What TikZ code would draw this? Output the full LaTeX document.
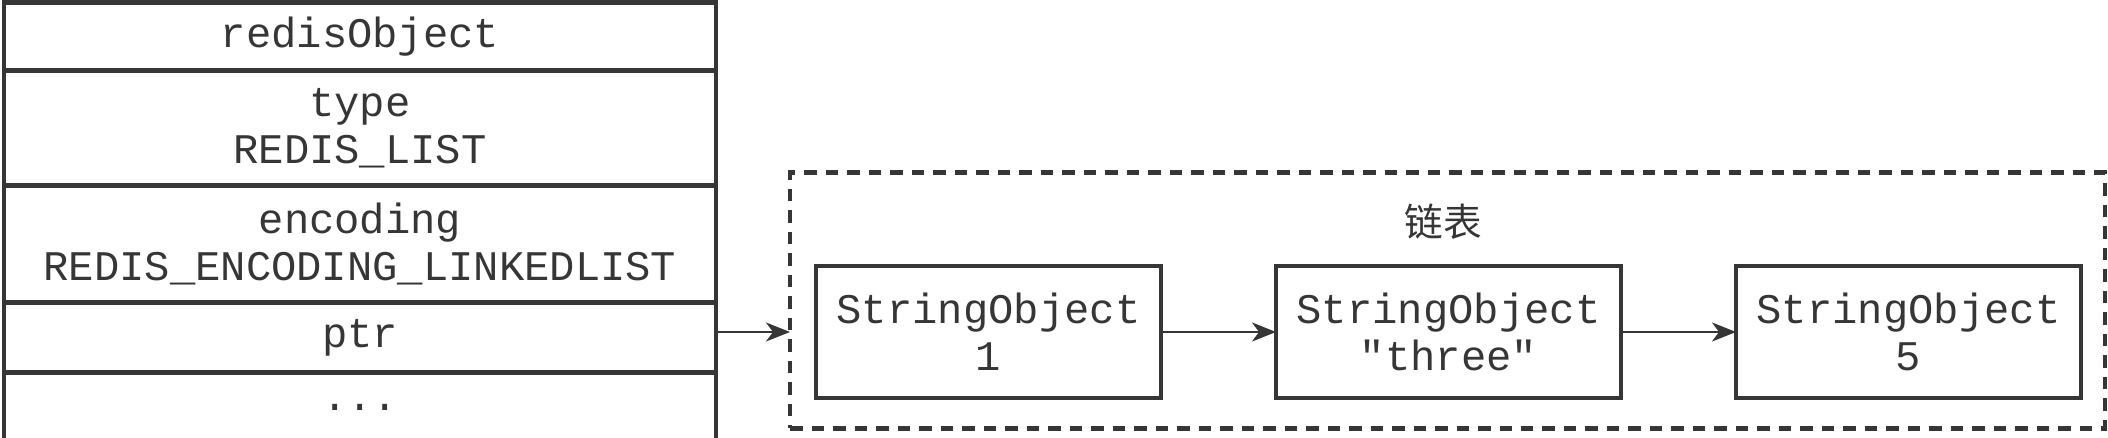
\documentclass[tikz,border=0pt]{standalone}
\usepackage{fontspec}
\setmonofont{Liberation Mono}
\newfontfamily\cjk{Noto Sans CJK SC}
\usetikzlibrary{positioning,arrows.meta}
\definecolor{inkgray}{HTML}{363636}
\begin{document}
\begin{tikzpicture}[
		font=\ttfamily\fontsize{24}{27}\selectfont,
		field/.style={draw=inkgray, line width=0.085cm, text=inkgray, minimum width=14.24cm, outer sep=0pt, inner sep=0pt, align=center},
		strobj/.style={draw=inkgray, line width=0.09cm, text=inkgray, minimum width=6.9cm, minimum height=2.64cm, outer sep=0pt, align=center},
		link/.style={draw=inkgray, line width=0.04cm, -{Stealth[length=0.48cm,width=0.38cm,inset=0.14cm]}}
	]
	\useasboundingbox (0,0) rectangle (42.16,-8.76);
	% redisObject table
	\node[field, minimum height=1.36cm] (head) at (7.20,-0.73) {redisObject};
	\node[field, minimum height=2.30cm, below=0pt of head] (type) {type\\REDIS\_LIST};
	\node[field, minimum height=2.34cm, below=0pt of type] (encoding) {encoding\\REDIS\_ENCODING\_LINKEDLIST};
	\node[field, minimum height=1.40cm, below=0pt of encoding] (ptr) {ptr};
	\node[field, minimum height=1.40cm, below=0pt of ptr] (more) {...};
	% linked list
	\node[draw=inkgray, line width=0.09cm, dash pattern=on 0.25cm off 0.18cm, minimum width=26.30cm, minimum height=5.12cm, outer sep=0pt] (list) at (28.95,-6.01) {};
	\node[text=inkgray, font=\cjk\fontsize{22}{26}\selectfont] (title) at (28.86,-4.44) {链表};
	\node[strobj] (one) at (19.77,-6.64) {StringObject\\1};
	\node[strobj, right=2.3cm of one] (three) {StringObject\\"three"};
	\node[strobj, right=2.3cm of three] (five) {StringObject\\5};
	\draw[link] (ptr.east |- one) -- (list.west |- one);
	\draw[link] (one) -- (three);
	\draw[link] (three) -- (five);
\end{tikzpicture}
\end{document}
